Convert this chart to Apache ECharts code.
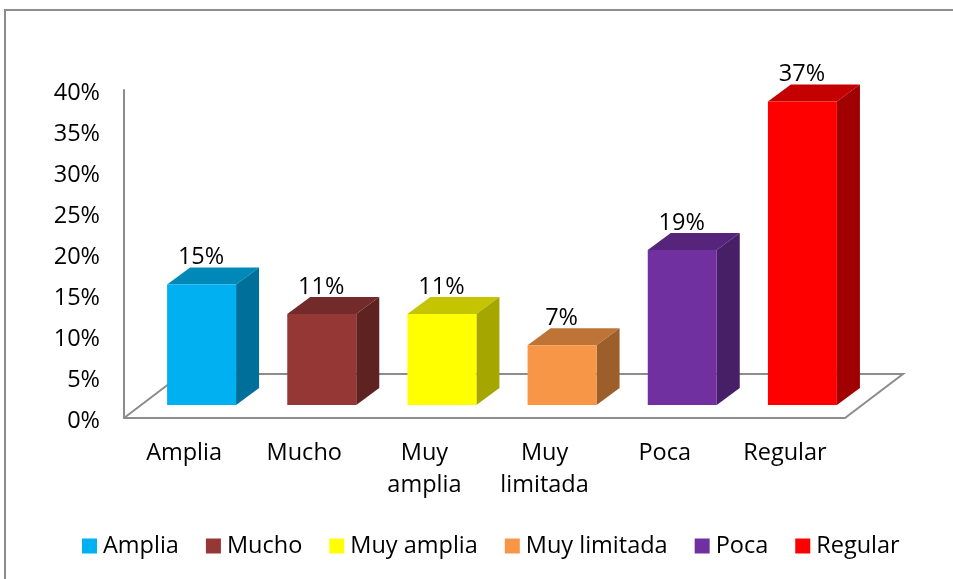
<!DOCTYPE html>
<html><head><meta charset="utf-8">
<style>html,body{margin:0;padding:0;background:#fff}#c{width:953px;height:579px}</style>
<script src="https://cdn.jsdelivr.net/npm/echarts@6/dist/echarts.min.js"></script>
</head><body><div id="c"></div>
<script>
const legendNames = ['Amplia','Mucho','Muy amplia','Muy limitada','Poca','Regular'];
const tickLabels = ['Amplia','Mucho','Muy\namplia','Muy\nlimitada','Poca','Regular'];
const values = [14.7,11.1,11.1,7.3,18.9,37];
const valueLabels = ['15%','11%','11%','7%','19%','37%'];
const frontColors = ['#00B0F0','#953735','#FFFF00','#F79646','#7030A0','#FF0000'];
const topColors = ['#0088B9','#722B29','#C4C400','#BE7436','#56257B','#C40000'];
const sideColors = ['#00709A','#5E2221','#A6A600','#9C5F2C','#471F66','#A00000'];
const FONT = '"Open Sans", sans-serif';
const FS = 23.5, GREY = '#8C8C8C';
const DX = 23, DY = 17, LIFT = 13, SHIFT = 17.5, BW = 69;

const chart = echarts.init(document.getElementById('c'), null, {renderer:'canvas'});

function barRender(i){
  return function(params, api){
    const p = api.coord([api.value(0), api.value(1)]);
    const b = api.coord([api.value(0), 0]);
    const l = p[0] + SHIFT - BW/2, r = l + BW, t = p[1] - LIFT, bt = b[1] - LIFT;
    return {type:'group', children:[
      {type:'polygon', shape:{points:[[l,t],[r,t],[r+DX,t-DY],[l+DX,t-DY]]}, style:{fill:topColors[i]}},
      {type:'polygon', shape:{points:[[r,t],[r+DX,t-DY],[r+DX,bt-DY],[r,bt]]}, style:{fill:sideColors[i]}},
      {type:'rect', shape:{x:l,y:t,width:BW,height:bt-t}, style:{fill:frontColors[i]}},
      {type:'text', style:{text:valueLabels[i], x:(l+r)/2-0.5, y:t-27, align:'center', verticalAlign:'middle',
        fontFamily:FONT, fontSize:FS, fill:'#000'}}
    ]};
  };
}
function floorRender(params){
  const c = params.coordSys, x0 = c.x, x1 = c.x + c.width, y = c.y + c.height;
  const fx = 58, fy = 44;
  return {type:'polyline', shape:{points:[[x0,y],[x0+fx,y-fy],[x1+fx,y-fy],[x1,y]]},
    style:{fill:null, stroke:GREY, lineWidth:2}};
}
const series = [{type:'custom', name:'floor', coordinateSystem:'cartesian2d', data:[[0,0]],
  renderItem:floorRender, silent:true, clip:false, z:1}];
legendNames.forEach((n,i)=>{
  series.push({type:'custom', name:n, coordinateSystem:'cartesian2d', data:[[i,values[i]]],
    encode:{x:0,y:1}, renderItem:barRender(i), clip:false, z:2, itemStyle:{color:frontColors[i]}});
});

chart.setOption({
  animation:false,
  backgroundColor:'#fff',
  graphic:[{type:'rect', shape:{x:5,y:10,width:1000,height:700}, style:{fill:null,stroke:GREY,lineWidth:2}, silent:true, z:0}],
  grid:{left:124, top:90, width:721, height:328, containLabel:false},
  legend:{data:legendNames.map((n,i)=>({name:n,icon:'rect',itemStyle:{color:frontColors[i]}})),
    left:77, top:529, itemWidth:15, itemHeight:15, itemGap:27,
    textStyle:{fontFamily:FONT,fontSize:FS,color:'#000',padding:[0,0,0,1]}},
  xAxis:{type:'category', data:tickLabels, boundaryGap:true,
    axisTick:{show:false}, axisLine:{lineStyle:{color:GREY,width:2}},
    axisLabel:{fontFamily:FONT,fontSize:FS,color:'#000',margin:19,lineHeight:32,interval:0}},
  yAxis:{type:'value', min:0, max:40, interval:5,
    axisLine:{show:true,lineStyle:{color:GREY,width:2}}, axisTick:{show:false}, splitLine:{show:false},
    axisLabel:{fontFamily:FONT,fontSize:FS,color:'#000',margin:24,verticalAlign:'top',lineHeight:6,formatter:'{value}%'}},
  series
});
</script></body></html>
